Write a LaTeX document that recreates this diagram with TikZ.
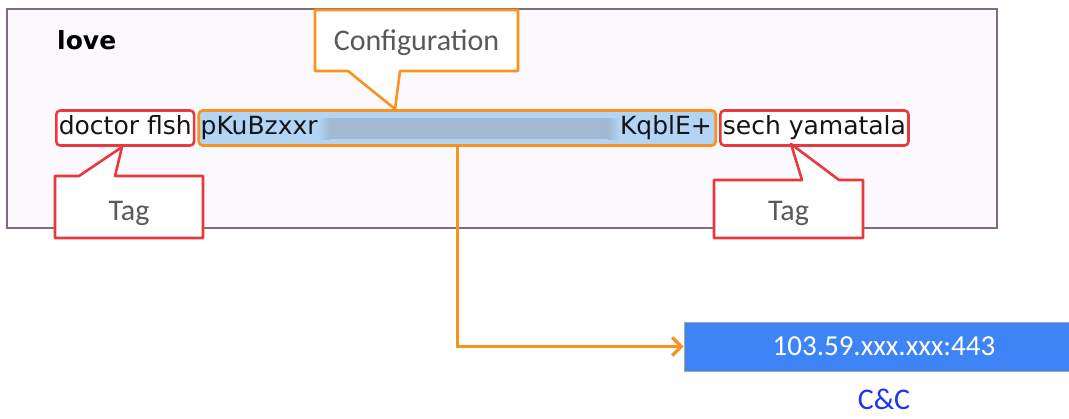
\documentclass[tikz,border=0pt]{standalone}
\usepackage{fontspec}
\setmainfont{DejaVu Sans}
\newfontfamily\calfont{Carlito}
\usetikzlibrary{arrows.meta,positioning,calc}
\definecolor{tagred}{HTML}{E8393F}
\definecolor{cfgorange}{HTML}{F7931E}
\definecolor{hlblue}{HTML}{B3D4F5}
\definecolor{blurblue}{HTML}{A3B9D3}
\definecolor{framepurple}{HTML}{806B80}
\definecolor{framefill}{HTML}{FBF9FD}
\definecolor{ccblue}{HTML}{3E84F6}
\definecolor{cclabel}{HTML}{2233EE}
\definecolor{calgray}{HTML}{595959}
\tikzset{
  rowtext/.style={font=\fontsize{25}{30}\selectfont,text=black!92,inner sep=0pt,text height=18pt,text depth=5pt},
  tagbox/.style={rowtext,draw=tagred,line width=2.6pt,rounded corners=4pt,minimum height=35pt,inner xsep=2.5pt,fill=white},
  cfgbox/.style={draw=cfgorange,line width=2.6pt,rounded corners=4pt,minimum height=35pt,minimum width=517pt,fill=hlblue},
  tagline/.style={draw=tagred,line width=2.6pt,fill=white,line join=round},
  cfgline/.style={draw=cfgorange,line width=2.6pt,fill=white,line join=round},
  calltext/.style={font=\calfont\fontsize{30}{36}\selectfont,text=calgray,inner sep=0pt},
  link/.style={draw=cfgorange,line width=3.2pt,-{Straight Barb[length=9pt,width=18pt,line width=3.2pt]}},
  ccbox/.style={draw=gray!70,line width=1pt,fill=ccblue,text=white,minimum width=400pt,minimum height=49pt,font=\calfont\fontsize{29}{35}\selectfont},
}

\begin{document}
\begin{tikzpicture}[x=1pt,y=-1pt]
  \useasboundingbox (0,0) rectangle (1069,418);
  \draw[framepurple,line width=1.5pt,fill=framefill] (7,9) rectangle (997,228);
  \node[font=\bfseries\fontsize{25}{30}\selectfont,anchor=west,inner sep=0pt] (title) at (57,40) {love};

  % the decoded line
  \node[tagbox,anchor=west] (doctor) at (55,128) {doctor flsh};
  \node[cfgbox,right=2pt of doctor] (cfg) {};
  \node[tagbox,right=2pt of cfg] (sech) {sech yamatala};
  \node[rowtext,anchor=west] (cfgstart) at ($(cfg.west)+(3,0)$) {pKuBzxxr};
  \node[rowtext,anchor=east] (cfgend) at ($(cfg.east)+(-5,0)$) {KqblE+};
  \fill[blurblue] ([xshift=12pt,yshift=10pt]cfgstart.east) rectangle ([xshift=-12pt,yshift=-11pt]cfgend.west);
  \shade[left color=hlblue,right color=blurblue] ([yshift=10pt]cfgstart.east) rectangle ([xshift=12pt,yshift=-11pt]cfgstart.east);
  \shade[left color=blurblue,right color=hlblue] ([xshift=-12pt,yshift=10pt]cfgend.west) rectangle ([yshift=-11pt]cfgend.west);

  % callouts
  \coordinate (cfgtip) at (395,109);
  \coordinate (tagltip) at (122,147);
  \coordinate (tagrtip) at (791,144);
  \filldraw[cfgline] (315,10) -- (518,10) -- (518,71) -- (400,71) -- (cfgtip) -- (348,71) -- (315,71) -- cycle;
  \node[calltext] (cfglabel) at (416.5,43) {Configuration};
  \filldraw[tagline] (55,176) -- (79,176) -- (tagltip) -- (115,176) -- (203,176) -- (203,238) -- (55,238) -- cycle;
  \node[calltext] (tagl) at (129,213) {Tag};
  \filldraw[tagline] (714,180) -- (802,180) -- (tagrtip) -- (839,180) -- (863,180) -- (863,238) -- (714,238) -- cycle;
  \node[calltext] (tagr) at (788.5,213) {Tag};

  % C&C
  \node[ccbox] (cc) at (884,346.5) {103.59.xxx.xxx:443};
  \node[font=\calfont\fontsize{30}{36}\selectfont,text=cclabel,inner sep=0pt,below=17pt of cc] (cclab) {C\&C};
  \draw[link] (cfg.south) |- (cc.west);
\end{tikzpicture}
\end{document}
